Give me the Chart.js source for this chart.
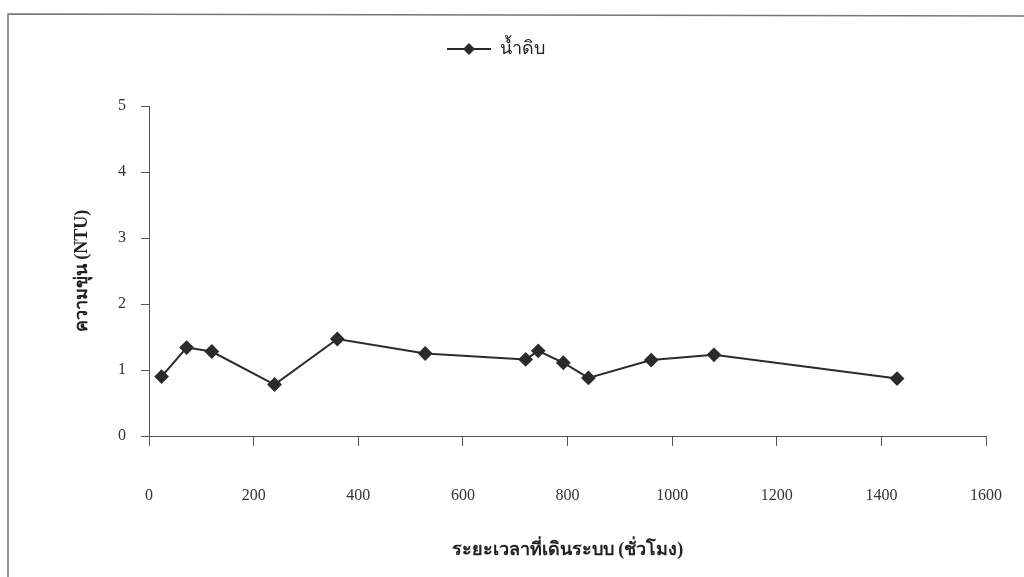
<!DOCTYPE html>
<html>
<head>
<meta charset="utf-8">
<script src="https://cdn.jsdelivr.net/npm/chart.js@4"></script>
<style>
  html, body { margin: 0; padding: 0; background: #fff; }
  #wrap { width: 1024px; height: 577px; position: relative; }
</style>
</head>
<body>
<div id="wrap"><canvas id="turbidityChart" width="1024" height="577"></canvas></div>
<script>
// ระยะเวลา (ชั่วโมง) และ ความขุ่น (NTU) ของน้ำดิบ
const hours = [24, 72, 120, 240, 360, 528, 720, 744, 792, 840, 960, 1080, 1430];
const turbidity = [0.90, 1.34, 1.28, 0.78, 1.47, 1.25, 1.16, 1.29, 1.11, 0.88, 1.15, 1.23, 0.87];
const seriesName = 'น้ำดิบ';
const xTitle = 'ระยะเวลาที่เดินระบบ (ชั่วโมง)';
const yTitle = 'ความขุ่น (NTU)';

const ink = '#2b2b2b';
const axisInk = '#555';
const serif = "'Liberation Serif', 'DejaVu Serif', serif";

// legend symbol: short line with a diamond in the middle
function legendSymbol() {
    const c = document.createElement('canvas');
    c.width = 44;
    c.height = 14;
    const g = c.getContext('2d');
    g.strokeStyle = ink;
    g.lineWidth = 2;
    g.beginPath();
    g.moveTo(0, 7);
    g.lineTo(44, 7);
    g.stroke();
    g.fillStyle = ink;
    g.beginPath();
    g.moveTo(22, 1);
    g.lineTo(28, 7);
    g.lineTo(22, 13);
    g.lineTo(16, 7);
    g.closePath();
    g.fill();
    return c;
}

// scanned page frame (top and left edge)
const pageFrame = {
    id: 'pageFrame',
    beforeDraw(chart) {
        const ctx = chart.ctx;
        ctx.save();
        ctx.strokeStyle = '#777';
        ctx.lineWidth = 1.5;
        ctx.beginPath();
        ctx.moveTo(8, 577);
        ctx.lineTo(8, 14);
        ctx.lineTo(1024, 16);
        ctx.stroke();
        ctx.restore();
    }
};

// keep room below the legend so the plot starts where the original does
const legendSpace = {
    id: 'legendSpace',
    beforeLayout(chart) {
        const lg = chart.legend;
        if (lg && !lg._fixedHeight) {
            const fit = lg.fit;
            lg.fit = function () {
                fit.call(this);
                this.height = 76;
            };
            lg._fixedHeight = true;
        }
    }
};

const points = hours.map((h, i) => ({ x: h, y: turbidity[i] }));
const symbol = legendSymbol();

new Chart(document.getElementById('turbidityChart').getContext('2d'), {
    type: 'line',
    data: {
        datasets: [{
            label: seriesName,
            data: points,
            borderColor: ink,
            backgroundColor: ink,
            borderWidth: 2,
            pointStyle: 'rectRot',
            pointRadius: 6,
            pointBackgroundColor: ink,
            pointBorderColor: ink,
            tension: 0
        }]
    },
    options: {
        responsive: false,
        animation: false,
        layout: { padding: { top: 30, left: 6, right: 38, bottom: 0 } },
        plugins: {
            legend: {
                display: true,
                position: 'top',
                labels: {
                    usePointStyle: true,
                    pointStyleWidth: 44,
                    padding: 10,
                    color: '#222',
                    font: { family: serif, size: 18 },
                    generateLabels: (chart) => [{
                        text: seriesName,
                        pointStyle: symbol,
                        fillStyle: ink,
                        strokeStyle: ink,
                        lineWidth: 0,
                        datasetIndex: 0,
                        fontColor: '#222'
                    }]
                }
            },
            tooltip: { enabled: false }
        },
        scales: {
            x: {
                type: 'linear',
                min: 0,
                max: 1600,
                afterFit: (scale) => {
                    scale.height = 141;
                    scale.paddingLeft = 0;
                    scale.paddingRight = 0;
                },
                ticks: {
                    stepSize: 200,
                    padding: 40,
                    maxRotation: 0,
                    color: '#333',
                    callback: (v) => String(v),
                    font: { family: serif, size: 16 }
                },
                grid: {
                    drawOnChartArea: false,
                    drawTicks: true,
                    tickLength: 10,
                    color: axisInk
                },
                border: { color: axisInk, width: 1 },
                title: {
                    display: true,
                    text: xTitle,
                    color: '#222',
                    padding: { top: 0, bottom: 16 },
                    font: { family: serif, size: 18, weight: 'bold' }
                }
            },
            y: {
                min: 0,
                max: 5,
                afterFit: (scale) => { scale.width = 143; },
                ticks: {
                    stepSize: 1,
                    padding: 15,
                    color: '#333',
                    font: { family: serif, size: 16 }
                },
                grid: {
                    drawOnChartArea: false,
                    drawTicks: true,
                    tickLength: 8,
                    color: axisInk
                },
                border: { color: axisInk, width: 1 },
                title: {
                    display: true,
                    text: yTitle,
                    color: '#222',
                    padding: { top: 66, bottom: 0 },
                    font: { family: serif, size: 18, weight: 'bold' }
                }
            }
        }
    },
    plugins: [pageFrame, legendSpace]
});
</script>
</body>
</html>
